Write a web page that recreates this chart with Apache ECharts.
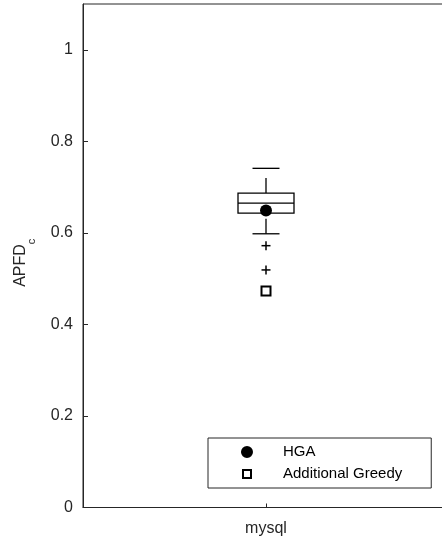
<!DOCTYPE html>
<html>
<head>
<meta charset="utf-8">
<script src="https://cdn.jsdelivr.net/npm/echarts@6/dist/echarts.min.js"></script>
<style>
html,body{margin:0;padding:0;background:#fff;overflow:hidden;width:442px;height:541px;}
#chart{width:449px;height:541px;}
</style>
</head>
<body>
<div id="chart"></div>
<script>
// ---- data ----
const categories = ['mysql'];
// [lower whisker, Q1, median, Q3, upper whisker]
const boxStats = [0.598, 0.643, 0.665, 0.687, 0.741];
const outliers = [0.572, 0.519];
const hgaMean = [0.649];
const greedyValue = [0.473];
const yTicks = [0, 0.2, 0.4, 0.6, 0.8, 1];

const chart = echarts.init(document.getElementById('chart'), null, {renderer: 'canvas'});
const axisColor = '#262626';
const FONT = 'Liberation Sans, Arial, Helvetica, sans-serif';

function renderBox(params, api) {
  const x = api.value(0);
  const lo = api.coord([x, api.value(1)]);
  const q1 = api.coord([x, api.value(2)]);
  const md = api.coord([x, api.value(3)]);
  const q3 = api.coord([x, api.value(4)]);
  const hi = api.coord([x, api.value(5)]);
  const cx = lo[0];
  const hw = 28, cw = 13.5;
  const st = {stroke: '#000', lineWidth: 1.3, fill: null};
  const dash = {stroke: '#000', lineWidth: 1.3, lineDash: [15, 12]};
  return {
    type: 'group',
    children: [
      {type: 'rect', shape: {x: cx - hw, y: q3[1], width: hw * 2, height: q1[1] - q3[1]}, style: {stroke: '#000', lineWidth: 1.3, fill: 'none'}},
      {type: 'line', shape: {x1: cx - hw, y1: md[1], x2: cx + hw, y2: md[1]}, style: st},
      {type: 'line', shape: {x1: cx, y1: q3[1], x2: cx, y2: hi[1]}, style: dash},
      {type: 'line', shape: {x1: cx, y1: lo[1], x2: cx, y2: q1[1]}, style: dash},
      {type: 'line', shape: {x1: cx - cw, y1: hi[1], x2: cx + cw, y2: hi[1]}, style: st},
      {type: 'line', shape: {x1: cx - cw, y1: lo[1], x2: cx + cw, y2: lo[1]}, style: st}
    ]
  };
}

function renderPlus(params, api) {
  const p = api.coord([api.value(0), api.value(1)]);
  const h = 4.5;
  const st = {stroke: '#000', lineWidth: 1.5};
  return {
    type: 'group',
    children: [
      {type: 'line', shape: {x1: p[0] - h, y1: p[1], x2: p[0] + h, y2: p[1]}, style: st},
      {type: 'line', shape: {x1: p[0], y1: p[1] - h, x2: p[0], y2: p[1] + h}, style: st}
    ]
  };
}

const option = {
  backgroundColor: '#fff',
  animation: false,
  grid: {left: 83, right: 0, top: 4, bottom: 33.5, show: true, borderColor: axisColor, borderWidth: 1, backgroundColor: 'transparent'},
  xAxis: {
    type: 'category',
    data: categories,
    boundaryGap: true,
    axisLine: {show: true, lineStyle: {color: axisColor, width: 1}},
    axisTick: {show: true, inside: true, length: 4, alignWithLabel: true, lineStyle: {color: axisColor}},
    axisLabel: {color: axisColor, fontSize: 16, fontFamily: FONT, margin: 13},
    splitLine: {show: false}
  },
  yAxis: {
    type: 'value',
    min: 0, max: 1.1, interval: 0.2,
    axisLine: {show: true, lineStyle: {color: axisColor, width: 1}},
    axisTick: {show: true, inside: true, length: 5, customValues: yTicks, lineStyle: {color: axisColor}},
    axisLabel: {color: axisColor, fontSize: 16, fontFamily: FONT, margin: 10, customValues: yTicks},
    splitLine: {show: false},
    name: '{a|APFD}{b|c}',
    nameLocation: 'middle',
    nameGap: 46,
    nameTextStyle: {
      color: axisColor, fontFamily: FONT,
      padding: [0, 14, 0, 0],
      rich: {
        a: {fontSize: 16, fontFamily: FONT, color: axisColor, verticalAlign: 'top', lineHeight: 24},
        b: {fontSize: 11, fontFamily: FONT, color: axisColor, verticalAlign: 'bottom', lineHeight: 24}
      }
    }
  },
  legend: {
    orient: 'vertical',
    left: 208, top: 438,
    padding: [6.5, 29, 6.5, 7],
    itemWidth: 62, itemHeight: 12, itemGap: 7,
    borderColor: axisColor, borderWidth: 1,
    backgroundColor: '#fff',
    textStyle: {color: '#000', fontSize: 15, fontFamily: FONT},
    data: [
      {name: 'HGA', icon: 'path://M0,0M62,12M31,0A6,6,0,1,1,30.99,0Z'},
      {name: 'Additional Greedy', icon: 'path://M0,0M62,12M27,2L35,2L35,10L27,10Z'}
    ],
    selectedMode: false
  },
  series: [
    {
      type: 'custom', name: 'box', renderItem: renderBox,
      data: [[0].concat(boxStats)], z: 2, silent: true
    },
    {
      type: 'custom', name: 'outliers', renderItem: renderPlus,
      data: outliers.map(v => [0, v]), z: 2, silent: true
    },
    {
      type: 'scatter', name: 'HGA', symbol: 'circle', symbolSize: 12,
      itemStyle: {color: '#000', opacity: 1},
      data: hgaMean.map(v => [0, v]), z: 3
    },
    {
      type: 'scatter', name: 'Additional Greedy', symbol: 'rect', symbolSize: 9,
      itemStyle: {color: '#fff', borderColor: '#000', borderWidth: 2, opacity: 1},
      data: greedyValue.map(v => [0, v]), z: 3
    }
  ]
};
chart.setOption(option);
</script>
</body>
</html>
